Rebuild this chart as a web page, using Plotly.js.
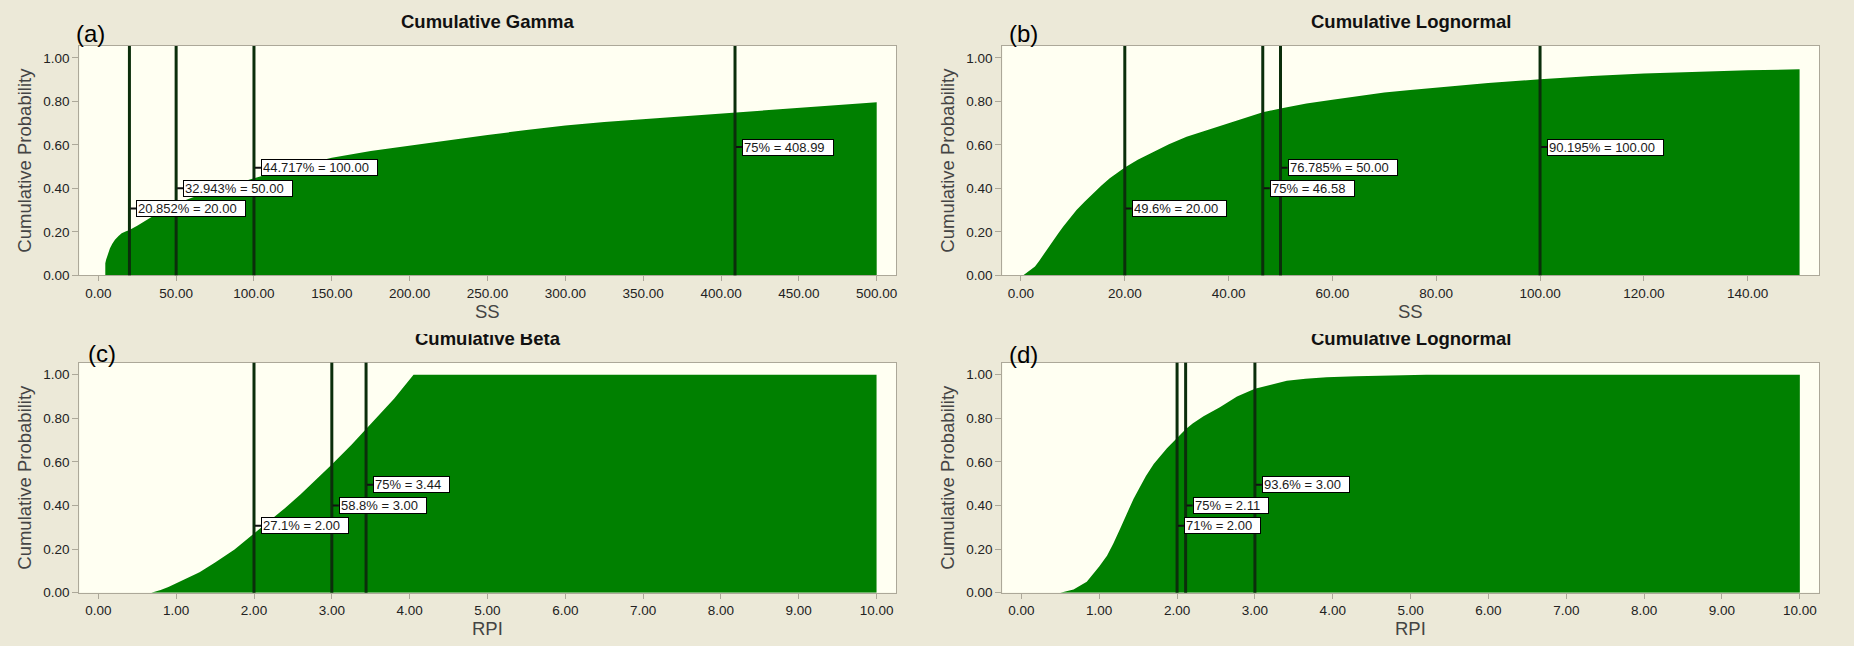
<!DOCTYPE html>
<html>
<head>
<meta charset="utf-8">
<script src="https://cdn.plot.ly/plotly-3.0.1.min.js"></script>
<style>
html,body{margin:0;padding:0;background:#ECE9D8;}
#chart{width:1854px;height:646px;}
</style>
</head>
<body>
<div id="chart"></div>
<script>
// ---------- data ----------
const gammaX = [4.5, 4.5, 5, 6, 7.5, 9, 10.7, 13, 15, 17.5, 20, 25, 30, 35, 40, 50, 60, 75, 100, 125, 150, 175, 200, 225, 250, 275, 300, 325, 350, 375, 409, 450, 500];
const gammaY = [0, 0.055, 0.072, 0.095, 0.124, 0.145, 0.163, 0.181, 0.193, 0.202, 0.2085, 0.228, 0.25, 0.272, 0.293, 0.329, 0.357, 0.393, 0.447, 0.497, 0.541, 0.572, 0.597, 0.623, 0.646, 0.668, 0.689, 0.705, 0.718, 0.731, 0.75, 0.773, 0.796];

const lognSSX = [0.45, 1.0, 1.73, 2.7, 3.5, 4.3, 5.2, 6.2, 7.2, 8.15, 9.4, 10.7, 12.3, 13.9, 15.5, 17.1, 20, 22.5, 25.5, 28.5, 31.9, 36, 40, 43, 46.58, 50, 55, 60, 65, 70, 75, 80, 90, 100, 110, 120, 130, 140, 150];
const lognSSY = [0, 0.01, 0.025, 0.04, 0.066, 0.094, 0.128, 0.163, 0.194, 0.224, 0.262, 0.30, 0.34, 0.377, 0.413, 0.446, 0.496, 0.532, 0.569, 0.603, 0.638, 0.67, 0.699, 0.722, 0.75, 0.768, 0.79, 0.808, 0.826, 0.841, 0.852, 0.863, 0.885, 0.902, 0.917, 0.928, 0.936, 0.943, 0.948];

const betaX = [0.68, 0.8, 0.9, 1.0, 1.15, 1.3, 1.5, 1.75, 2.0, 2.2, 2.4, 2.6, 2.8, 3.0, 3.25, 3.44, 3.6, 3.8, 4.05, 10];
const betaY = [0, 0.012, 0.026, 0.043, 0.07, 0.094, 0.138, 0.198, 0.271, 0.328, 0.388, 0.452, 0.52, 0.588, 0.678, 0.75, 0.81, 0.89, 1.0, 1.0];

const lognRPIX = [0.5, 0.67, 0.84, 1.0, 1.1, 1.18, 1.27, 1.355, 1.44, 1.53, 1.6, 1.7, 1.87, 2.0, 2.11, 2.2, 2.34, 2.55, 2.77, 3.0, 3.2, 3.41, 3.65, 3.92, 4.3, 4.68, 5.2, 10];
const lognRPIY = [0, 0.015, 0.05, 0.12, 0.17, 0.225, 0.295, 0.365, 0.43, 0.49, 0.535, 0.59, 0.663, 0.71, 0.75, 0.776, 0.809, 0.851, 0.90, 0.936, 0.954, 0.972, 0.981, 0.988, 0.993, 0.997, 1.0, 1.0];

const markA = [20, 50, 100, 408.99];
const labelA = ["20.852% = 20.00", "32.943% = 50.00", "44.717% = 100.00", "75% = 408.99"];
const markB = [20, 46.58, 50, 100];
const labelB = ["49.6% = 20.00", "75% = 46.58", "76.785% = 50.00", "90.195% = 100.00"];
const markC = [2.0, 3.0, 3.44];
const labelC = ["27.1% = 2.00", "58.8% = 3.00", "75% = 3.44"];
const markD = [2.0, 2.11, 3.0];
const labelD = ["71% = 2.00", "75% = 2.11", "93.6% = 3.00"];
const labelLevels = [0.307, 0.40, 0.495, 0.59];

const titles = ["Cumulative Gamma", "Cumulative Lognormal", "Cumulative Beta", "Cumulative Lognormal"];
const panelTags = ["(a)", "(b)", "(c)", "(d)"];
const xTitles = ["SS", "SS", "RPI", "RPI"];
const yTitle = "Cumulative Probability";
const yTicks = [0, 0.2, 0.4, 0.6, 0.8, 1.0];
const xTicksA = [0, 50, 100, 150, 200, 250, 300, 350, 400, 450, 500];
const xTicksB = [0, 20, 40, 60, 80, 100, 120, 140];
const xTicksCD = [0, 1, 2, 3, 4, 5, 6, 7, 8, 9, 10];

// ---------- layout geometry (pixels) ----------
const W = 1854, H = 646;
const px = v => v / W;
const py = v => 1 - v / H;
const FONT = "Liberation Sans, Arial, sans-serif";
const AXC = "#ACA899";
const GREEN = "#008000";
const MARK = "#0b2e0b";

const panels = [
  {xs:[79.3, 896], ys:[46, 275.3], range:[-12.2, 512.4], ticks:xTicksA, X:gammaX, Y:gammaY, marks:markA, labels:labelA,
   tag:[90, 33], yt:25},
  {xs:[1002.3, 1819.3], ys:[46, 275.3], range:[-3.6, 153.8], ticks:xTicksB, X:lognSSX, Y:lognSSY, marks:markB, labels:labelB,
   tag:[1023, 34], yt:948},
  {xs:[79.3, 896], ys:[362.7, 592.7], range:[-0.245, 10.25], ticks:xTicksCD, X:betaX, Y:betaY, marks:markC, labels:labelC,
   tag:[102, 353], yt:25},
  {xs:[1002.3, 1819.3], ys:[362.7, 592.7], range:[-0.245, 10.25], ticks:xTicksCD, X:lognRPIX, Y:lognRPIY, marks:markD, labels:labelD,
   tag:[1023, 354], yt:948}
];

const traces = [];
const layout = {
  width: W, height: H,
  margin: {l:0, r:0, t:0, b:0},
  paper_bgcolor: "#ECE9D8",
  plot_bgcolor: "#FFFFF2",
  showlegend: false,
  font: {family: FONT, color: "#222"},
  shapes: [],
  annotations: []
};

panels.forEach((p, i) => {
  const n = i === 0 ? "" : String(i + 1);
  const xa = "xaxis" + n, ya = "yaxis" + n;
  const xr = "x" + n, yr = "y" + n;
  layout[xa] = {
    domain: [px(p.xs[0]), px(p.xs[1])], range: p.range, anchor: yr,
    tickvals: p.ticks, tickformat: ".2f", ticks: "outside", ticklen: 5, tickcolor: AXC, tickwidth: 1,
    showline: true, linecolor: AXC, linewidth: 1, mirror: true,
    showgrid: false, zeroline: false, fixedrange: true,
    tickfont: {family: FONT, size: 13.5, color: "#222"}
  };
  layout[ya] = {
    domain: [py(p.ys[1]), py(p.ys[0])], range: [0, 1.055], anchor: xr,
    tickvals: yTicks, tickformat: ".2f", ticks: "outside", ticklen: 6, tickcolor: AXC, tickwidth: 1,
    showline: true, linecolor: AXC, linewidth: 1, mirror: true,
    showgrid: false, zeroline: false, fixedrange: true,
    tickfont: {family: FONT, size: 13.5, color: "#222"}
  };
  traces.push({
    type: "scatter", x: p.X, y: p.Y, xaxis: xr, yaxis: yr,
    mode: "lines", line: {width: 0, color: GREEN}, fill: "tozeroy", fillcolor: GREEN,
    hoverinfo: "skip"
  });
  p.marks.forEach((m, k) => {
    layout.shapes.push({type: "line", xref: xr, yref: yr + " domain", x0: m, x1: m, y0: 0, y1: 1,
      line: {color: MARK, width: 3}, layer: "above"});
    layout.shapes.push({type: "line", xref: xr, yref: yr, xsizemode: "pixel", xanchor: m, x0: 1, x1: 7,
      y0: labelLevels[k], y1: labelLevels[k], line: {color: "#111", width: 2}, layer: "above"});
    layout.annotations.push({xref: xr, yref: yr, x: m, y: labelLevels[k], xanchor: "left", yanchor: "middle",
      xshift: 7, text: p.labels[k] + "&nbsp;&nbsp;", showarrow: false, align: "left",
      bgcolor: "#FFFFFF", bordercolor: "#000000", borderwidth: 1, borderpad: 1, height: 13,
      font: {family: FONT, size: 13, color: "#1a1a1a"}});
  });
  const cx = (p.xs[0] + p.xs[1]) / 2;
  const titleY = i < 2 ? 21 : 339;
  layout.annotations.push({xref: "paper", yref: "paper", x: px(cx), y: py(titleY), xanchor: "center", yanchor: "middle",
    text: titles[i], showarrow: false, font: {family: FONT, size: 18.5, color: "#111", weight: "bold"}});
  layout.annotations.push({xref: "paper", yref: "paper", x: px(cx), y: py(p.ys[1] + 36), xanchor: "center", yanchor: "middle",
    text: xTitles[i], showarrow: false, font: {family: FONT, size: 18.5, color: "#444"}});
  layout.annotations.push({xref: "paper", yref: "paper", x: px(p.yt), y: py((p.ys[0] + p.ys[1]) / 2), xanchor: "center", yanchor: "middle",
    text: yTitle, textangle: -90, showarrow: false, font: {family: FONT, size: 18.5, color: "#444"}});
  layout.annotations.push({xref: "paper", yref: "paper", x: px(p.tag[0]), y: py(p.tag[1]), xanchor: "center", yanchor: "middle",
    text: panelTags[i], showarrow: false, font: {family: FONT, size: 24, color: "#000"}});
});

// beige strips that clip the tops of the lower titles, as in the source image
[487.6, 1410.8].forEach(cx => {
  layout.annotations.push({xref: "paper", yref: "paper", x: px(cx), y: py(320), xanchor: "center", yanchor: "top",
    text: "&nbsp;", showarrow: false, width: 260, height: 13.5, borderpad: 0, borderwidth: 0, bgcolor: "#ECE9D8",
    font: {size: 6, color: "#ECE9D8"}});
});

Plotly.newPlot("chart", traces, layout, {staticPlot: true, displayModeBar: false});
</script>
</body>
</html>
